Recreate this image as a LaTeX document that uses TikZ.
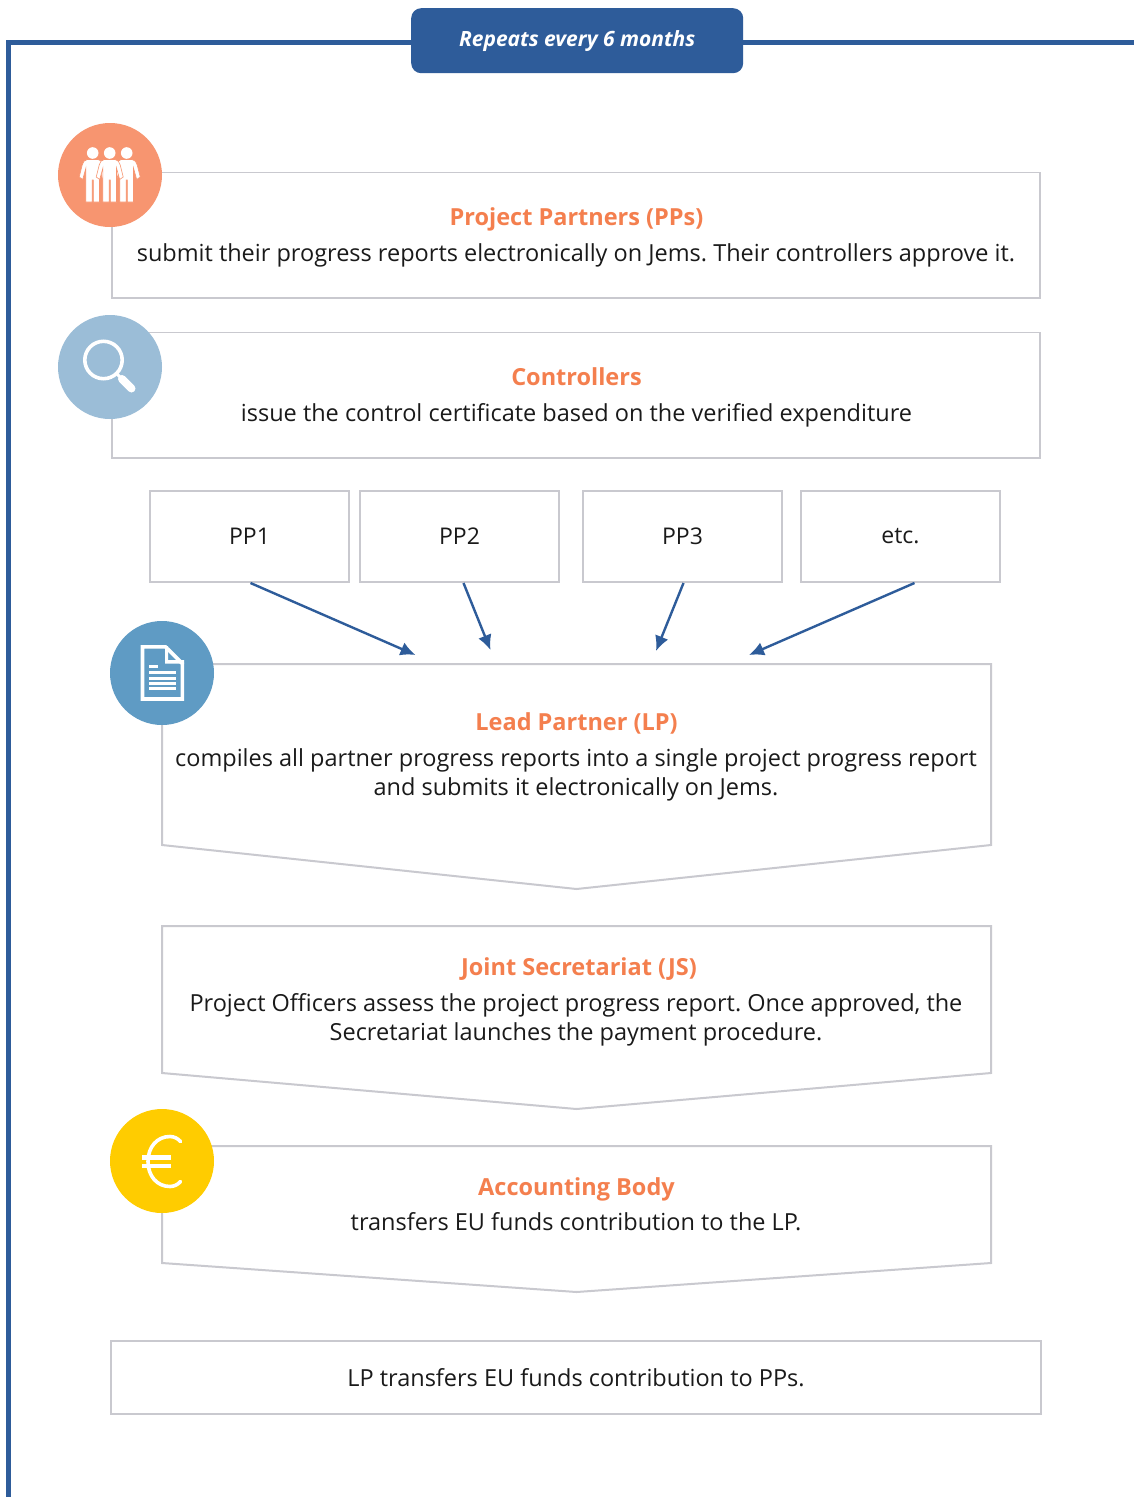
\documentclass[tikz,border=0pt]{standalone}
\usepackage{fontspec}
\setmainfont{Open Sans}
\usetikzlibrary{arrows.meta,calc}
\definecolor{frameblue}{HTML}{2E5C9A}
\definecolor{boxgrey}{HTML}{C9C9CF}
\definecolor{titleorange}{HTML}{F47F4E}
\definecolor{peach}{HTML}{F79570}
\definecolor{paleblue}{HTML}{9BBDD7}
\definecolor{docblue}{HTML}{5F9BC4}
\definecolor{gold}{HTML}{FFCC00}
\definecolor{bodyink}{HTML}{1A1A1A}
\tikzset{
  x=1pt,y=-1pt,
  box/.style={draw=boxgrey,line width=1.5pt,fill=white},
  thick box/.style={draw=boxgrey,line width=2pt,fill=white},
  ppbox/.style={thick box,minimum width=199pt,minimum height=91pt,inner sep=0pt,anchor=north west,font=\fontsize{23}{28}\selectfont,text=bodyink},
  title/.style={anchor=base,inner sep=0pt,text=titleorange,font=\fontsize{23.5}{29}\selectfont\bfseries},
  body/.style={anchor=base,inner sep=0pt,text=bodyink,align=center,font=\fontsize{23.5}{29}\selectfont\frenchspacing},
  badge/.style={circle,minimum size=104pt,inner sep=0pt,draw=none},
  flow/.style={draw=frameblue,line width=2.4pt,-{Latex[length=15pt,width=14pt]}},
  icon/.style={draw=white,line width=3.6pt},
}
\newcommand{\personfig}[2]{%
  \fill[white] (#1,153) circle (5.8);
  \fill[white,draw=#2,line width=0.6pt]
   (#1-5.5,159.5) -- (#1+5.5,159.5) .. controls (#1+8.5,160) and (#1+9.5,162) .. (#1+10.5,165)
   -- (#1+13.5,177) -- (#1+10,179.5) -- (#1+6.8,168) -- (#1+6.8,202) -- (#1+0.6,202)
   -- (#1+0.6,180) -- (#1-0.6,180) -- (#1-0.6,202) -- (#1-6.8,202) -- (#1-6.8,168)
   -- (#1-10,179.5) -- (#1-13.5,177) -- (#1-10.5,165) .. controls (#1-9.5,162) and (#1-8.5,160) .. (#1-5.5,159.5) -- cycle;
}
\begin{document}
\begin{tikzpicture}
\useasboundingbox (0,0) rectangle (1134,1497);
\fill[white] (0,0) rectangle (1134,1497);
% frame
\coordinate (frameend) at (1134,42);
\coordinate (framebottom) at (8.5,1497);
\coordinate (framecorner) at (8.5,42);
\draw[frameblue,line width=5pt] (framebottom) -- (framecorner) -- (frameend);
\node[fill=frameblue,rounded corners=10pt,minimum width=332pt,minimum height=65pt,inner sep=0pt,anchor=north west,
  text=white,font=\fontsize{21}{26}\selectfont\bfseries\itshape] (repeat) at (411,8) {\raisebox{-1.5pt}{Repeats every 6 months}};

% PP box
\draw[box] (112,172.5) rectangle (1040,298);
\node[title] (pptitle) at (576.5,225) {Project Partners (PPs)};
\node[body] (pptext) at (576,261) {submit their progress reports electronically on Jems. Their controllers approve it.};
% Controllers
\draw[box] (112,332.5) rectangle (1040,458);
\node[title] (ctitle) at (576.5,385) {Controllers};
\node[body] (ctext) at (576.5,421) {issue the control certificate based on the verified expenditure};
% small boxes
\node[ppbox] (pp1) at (149,490) {PP1};
\node[ppbox] (pp2) at (359,490) {PP2};
\node[ppbox] (pp3) at (582,490) {PP3};
\node[ppbox] (etc) at (800,490) {etc.};
% LP
\draw[thick box] (162,664) -- (991,664) -- (991,845) -- (576.5,889) -- (162,845) -- cycle;
\node[title] (lptitle) at (576.5,730) {Lead Partner (LP)};
\node[body] (lptext) at (576,795) {compiles all partner progress reports into a single project progress report\\and submits it electronically on Jems.};
% arrows
\coordinate (a1) at (415.5,655);
\coordinate (a2) at (490.5,650);
\coordinate (a3) at (656,651);
\coordinate (a4) at (749,655);
\draw[flow] ($(pp1.south)+(1,0)$) -- (a1);
\draw[flow] ($(pp2.south)+(4,0)$) -- (a2);
\draw[flow] ($(pp3.south)+(1,0)$) -- (a3);
\draw[flow] ($(etc.south)+(14,0)$) -- (a4);
% JS
\draw[thick box] (162,926) -- (991,926) -- (991,1073) -- (576.5,1109) -- (162,1073) -- cycle;
\node[title] (jstitle) at (579,975) {Joint Secretariat (JS)};
\node[body] (jstext) at (576,1040) {Project Officers assess the project progress report. Once approved, the\\Secretariat launches the payment procedure.};
% AB
\draw[thick box] (162,1146) -- (991,1146) -- (991,1263) -- (576.5,1292) -- (162,1263) -- cycle;
\node[title] (abtitle) at (576.5,1195) {Accounting Body};
\node[body] (abtext) at (576,1230) {transfers EU funds contribution to the LP.};
% final
\draw[thick box] (111,1341) rectangle (1041,1414);
\node[body] (final) at (576,1386) {LP transfers EU funds contribution to PPs.};

% badges
\node[badge,fill=peach] (b1) at (110,175) {};
\personfig{92.7}{peach}
\personfig{126.7}{peach}
\personfig{109.7}{peach}
\node[badge,fill=paleblue] (b2) at (110,367) {};
\draw[icon] (103.5,360) circle (18.7);
\draw[white,line width=3pt] (116,373) -- (122,379);
\draw[white,line width=8pt,line cap=round] (122,379) -- (131.5,388.5);
\node[badge,fill=docblue] (b3) at (162,673) {};
\draw[icon,line join=miter] (142.5,646.8) -- (165.5,646.8) -- (182.3,663.5) -- (182.3,699) -- (142.5,699) -- cycle;
\fill[white] (165,646) -- (168,646) -- (168,660) -- (184,660) -- (184,663.5) -- (165,663.5) -- cycle;
\fill[white] (148.5,665) rectangle (158,668);
\fill[white] (148.5,671) rectangle (176,674);
\fill[white] (148.5,677) rectangle (176,680);
\fill[white] (148.5,682) rectangle (176,685);
\fill[white] (148.5,687) rectangle (176,690);
\node[badge,fill=gold] (b4) at (162,1161) {};
\draw[icon,line cap=round] (180.5,1141.5) .. controls (178,1138.5) and (174,1136.5) .. (170,1136.5)
  .. controls (157,1136.5) and (148,1147) .. (148,1161.5)
  .. controls (148,1176) and (157,1186.5) .. (170,1186.5)
  .. controls (174,1186.5) and (178,1184.5) .. (180.5,1181.5);
\fill[white] (141.5,1155) rectangle (171,1159.5);
\fill[white] (141.5,1163.5) rectangle (171,1168);
\end{tikzpicture}
\end{document}
